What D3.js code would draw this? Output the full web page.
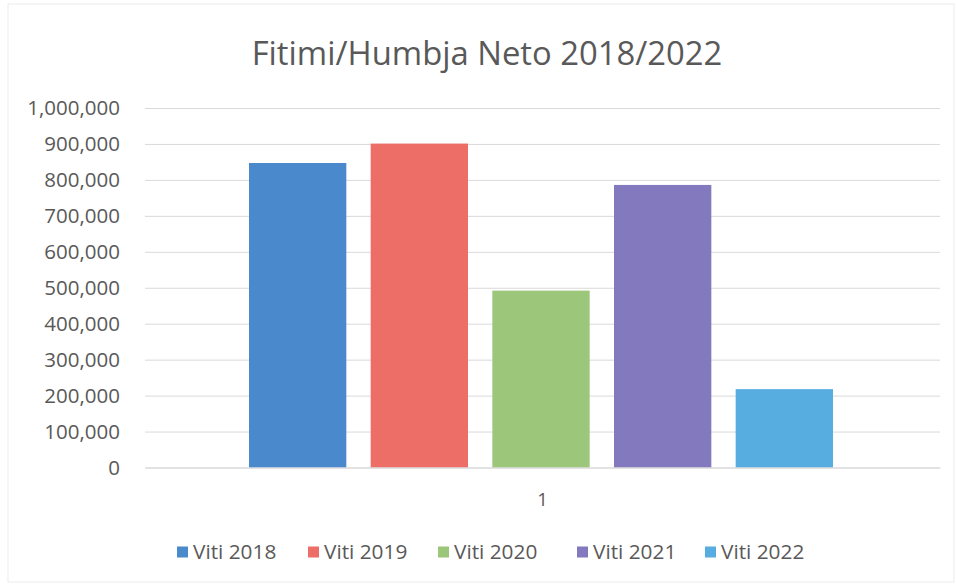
<!DOCTYPE html>
<html><head><meta charset="utf-8">
<script src="https://cdn.jsdelivr.net/npm/d3@7"></script>
<style>body{margin:0;background:#fff}svg{display:block}text{font-family:"Open Sans",Lato,sans-serif}</style>
</head><body><svg id="c" width="956" height="586"></svg>
<script>
const title = "Fitimi/Humbja Neto 2018/2022";
const categories = ["1"];
const seriesNames = ["Viti 2018","Viti 2019","Viti 2020","Viti 2021","Viti 2022"];
const seriesValues = [847000, 901000, 492000, 786000, 218000];
const seriesColors = ["#4a89cb","#ec6e66","#9cc77b","#8279bf","#57addf"];
const yTicks = [0,100000,200000,300000,400000,500000,600000,700000,800000,900000,1000000];

const svg = d3.select("#c");
svg.append("rect").attr("x",8).attr("y",4).attr("width",946).attr("height",578)
  .attr("fill","#fff").attr("stroke","#ececec");
const m = {l:145,r:940,t:108,b:467.5};
const y = d3.scaleLinear().domain([0,1000000]).range([m.b,m.t]);
const x0 = d3.scaleBand().domain(categories).range([m.l,m.r]);
const x1 = d3.scaleBand().domain(seriesNames).range([x0("1")+104, x0("1")+x0.bandwidth()-107]).paddingInner(0.2);

const fmt = d3.format(",");
const gy = svg.append("g").attr("transform",`translate(${m.l},0)`)
  .call(d3.axisLeft(y).tickValues(yTicks).tickFormat(fmt).tickSize(-(m.r-m.l)).tickPadding(25));
gy.select(".domain").remove();
gy.selectAll(".tick line").attr("stroke","#d9d9d9").attr("stroke-width",1);
gy.selectAll(".tick text").attr("fill","#595959").style("font-size","20.5px");

svg.append("g").selectAll("rect").data(seriesNames).join("rect")
  .attr("x",d=>x1(d)).attr("width",x1.bandwidth())
  .attr("y",(d,i)=>y(seriesValues[i])).attr("height",(d,i)=>m.b-y(seriesValues[i]))
  .attr("fill",(d,i)=>seriesColors[i]);

const gx = svg.append("g").attr("transform",`translate(0,${m.b})`)
  .call(d3.axisBottom(x0).tickSize(0).tickPadding(25));
gx.select(".domain").attr("stroke","#d9d9d9");
gx.selectAll(".tick text").attr("fill","#595959").style("font-size","18.5px");

svg.append("text").attr("x",487).attr("y",65).attr("text-anchor","middle")
  .attr("fill","#595959").style("font-size","32.8px").text(title);

const legX = [177,308,438,577,705];
const lg = svg.append("g").selectAll("g").data(seriesNames).join("g")
  .attr("transform",(d,i)=>`translate(${legX[i]},552)`);
lg.append("rect").attr("x",0).attr("y",-5.5).attr("width",11).attr("height",11).attr("fill",(d,i)=>seriesColors[i]);
lg.append("text").attr("x",16).attr("y",7).attr("fill","#595959").style("font-size","20.8px").text(d=>d);
</script></body></html>
